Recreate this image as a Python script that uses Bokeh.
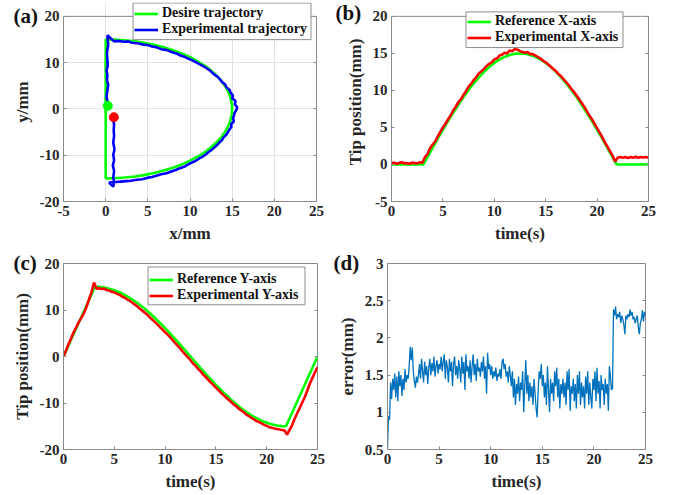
from bokeh.plotting import figure
from bokeh.layouts import row, column
from bokeh.models import Range1d, FixedTicker, LinearAxis, Legend, LegendItem, Span
from bokeh.embed import file_html
from bokeh.resources import INLINE

FONT = "Liberation Serif"
AX = "#8a8a8a"
TXT = "#262626"

# ---------------- data ----------------
t_ref = [0, 3.1, 3.5, 4.0, 4.5, 5.0, 5.5, 6.0, 6.5, 7.0, 7.5, 8.0, 8.5, 9.0, 9.5, 10.0,
         10.5, 11.0, 11.5, 12.0, 12.5, 13.0, 13.5, 14.0, 14.5, 15.0, 15.5, 16.0, 16.5,
         17.0, 17.5, 18.0, 18.5, 19.0, 19.5, 20.0, 20.5, 21.0, 21.5, 21.9, 25]
ref_x = [0, 0, 1.00, 2.25, 3.48, 4.68, 5.86, 6.99, 8.07, 9.10, 10.06, 10.95, 11.77, 12.51,
         13.15, 13.71, 14.17, 14.53, 14.79, 14.95, 15.0, 14.95, 14.79, 14.53, 14.17, 13.71,
         13.15, 12.51, 11.77, 10.95, 10.06, 9.10, 8.07, 6.99, 5.86, 4.68, 3.48, 2.25, 1.00, 0, 0]
ref_y = [0, 15, 14.97, 14.83, 14.59, 14.25, 13.81, 13.27, 12.64, 11.93, 11.13, 10.25, 9.30,
         8.28, 7.21, 6.09, 4.92, 3.72, 2.50, 1.25, 0, -1.25, -2.50, -3.72, -4.92, -6.09,
         -7.21, -8.28, -9.30, -10.25, -11.13, -11.93, -12.64, -13.27, -13.81, -14.25,
         -14.59, -14.83, -14.97, -15, 0]

t_exp = [i * 0.25 for i in range(101)]
exp_x = [0.15, 0.25, 0.10, 0.20, 0.30, 0.15, 0.20, 0.10, 0.25, 0.20, 0.15, 0.30,
         0.20, 1.0, 1.4, 2.2, 2.7, 3.1, 3.8, 4.4,
         5.0, 5.5, 6.1, 6.6, 7.3, 7.8, 8.4, 8.8, 9.4, 9.9, 10.5, 10.9,
         11.4, 11.8, 12.3, 12.6, 12.9, 13.3, 13.6, 13.8, 14.2, 14.3, 14.7, 14.8,
         15.1, 15.0, 15.4, 15.3, 15.6, 15.5, 15.3, 15.2, 15.1, 15.2, 14.9, 14.9,
         14.7, 14.5, 14.3, 14.0, 13.8, 13.5, 13.2, 12.9, 12.6, 12.2, 11.9, 11.5,
         11.1, 10.7, 10.2, 9.8, 9.3, 8.8, 8.3, 7.8, 7.2, 6.6, 6.1, 5.5,
         4.9, 4.3, 3.7, 3.0, 2.4, 1.8, 1.2, 0.4,
         0.9, 1.0, 0.9, 1.0, 0.85, 1.0, 0.9, 1.05, 0.9, 1.0, 0.95, 1.0, 0.9]
exp_y = [0.0, 1.3, 2.7, 3.9, 5.2, 6.3, 7.4, 8.3, 9.3, 10.6, 12.2, 13.8,
         15.9, 14.6, 14.7, 14.5, 14.6, 14.3, 14.2, 13.9, 13.8, 13.5, 13.3, 12.9,
         12.7, 12.3, 12.0, 11.6, 11.2, 10.8, 10.3, 9.9, 9.4, 9.0, 8.4, 7.9,
         7.4, 6.9, 6.3, 5.8, 5.2, 4.7, 4.1, 3.5, 2.9, 2.3, 1.7, 1.0,
         0.4, -0.2, -0.8, -1.5, -2.0, -2.7, -3.2, -3.9, -4.4, -5.0, -5.6, -6.1,
         -6.7, -7.2, -7.8, -8.3, -8.8, -9.3, -9.8, -10.3, -10.7, -11.2, -11.6, -12.0,
         -12.5, -12.8, -13.2, -13.5, -13.9, -14.1, -14.4, -14.7, -14.9, -15.2, -15.3, -15.5,
         -15.6, -15.7, -15.8, -15.9, -16.8, -15.8, -14.8, -13.4,
         -12.2, -11.1, -9.9, -8.7, -7.3, -5.8, -4.6, -3.4, -2.3]

des_pt_x = [0.25]
des_pt_y = [0.68]
exp_pt_x = [0.97]
exp_pt_y = [-1.8]

t_err = [i * 0.1 for i in range(251)]
err = [0.52, 0.95, 0.90, 1.40, 1.18, 1.45, 1.30, 1.52, 1.20, 1.48,
       1.15, 1.55, 1.35, 1.50, 1.22, 1.45, 1.30, 1.58, 1.40, 1.50,
       1.45, 1.62, 1.88, 1.70, 1.87, 1.55, 1.42, 1.33, 1.48, 1.40,
       1.50, 1.65, 1.45, 1.72, 1.55, 1.40, 1.68, 1.50, 1.62, 1.38,
       1.60, 1.72, 1.50, 1.66, 1.55, 1.75, 1.48, 1.62, 1.70, 1.52,
       1.65, 1.58, 1.75, 1.55, 1.68, 1.78, 1.45, 1.70, 1.60, 1.40,
       1.72, 1.55, 1.68, 1.35, 1.65, 1.75, 1.50, 1.62, 1.45, 1.70,
       1.58, 1.40, 1.75, 1.52, 1.68, 1.30, 1.78, 1.55, 1.62, 1.45,
       1.70, 1.40, 1.62, 1.78, 1.50, 1.65, 1.42, 1.72, 1.55, 1.60,
       1.48, 1.68, 1.55, 1.75, 1.45, 1.62, 1.25, 1.80, 1.58, 1.65,
       1.50, 1.62, 1.45, 1.55, 1.48, 1.60, 1.42, 1.52, 1.48, 1.58,
       1.45, 1.68, 1.72, 1.58, 1.65, 1.48, 1.55, 1.40, 1.62, 1.50,
       1.35, 1.55, 1.20, 1.45, 1.10, 1.38, 1.25, 1.48, 1.15, 1.40,
       1.30, 1.55, 1.00, 1.35, 1.70, 1.25, 1.50, 1.15, 1.40, 1.20,
       1.35, 1.10, 1.45, 1.25, 1.05, 0.93, 1.30, 1.55, 1.45, 1.65,
       1.35, 1.50, 1.20, 1.40, 1.10, 1.62, 1.30, 1.00, 1.45, 1.25,
       1.40, 1.15, 1.55, 1.35, 1.60, 1.20, 1.45, 1.05, 1.38, 1.25,
       1.45, 1.20, 1.40, 1.10, 1.55, 1.30, 1.58, 1.02, 1.35, 1.25,
       1.45, 1.15, 1.38, 1.05, 1.50, 1.25, 1.55, 1.10, 1.40, 1.20,
       1.35, 1.05, 1.48, 1.25, 1.55, 1.10, 1.40, 1.20, 1.05, 1.45,
       1.30, 1.55, 1.15, 1.60, 1.25, 1.42, 1.05, 1.50, 1.30, 1.38,
       1.10, 1.45, 1.25, 1.38, 1.02, 1.62, 1.48, 1.30, 1.32, 2.38,
       2.30, 2.42, 2.25, 2.32, 2.28, 2.35, 2.20, 2.30, 2.25, 2.18,
       2.05, 2.30, 2.25, 2.32, 2.28, 2.38, 2.30, 2.35, 2.25, 2.28,
       2.20, 2.25, 2.30, 2.15, 2.05, 2.20, 2.25, 2.37, 2.22, 2.35,
       2.30]

a_xticks = [-5, 0, 5, 10, 15, 20, 25]
a_xlabels = ["-5", "0", "5", "10", "15", "20", "25"]
a_yticks = [-20, -10, 0, 10, 20]
a_ylabels = ["-20", "-10", "0", "10", "20"]
t_ticks = [0, 5, 10, 15, 20, 25]
t_labels = ["0", "5", "10", "15", "20", "25"]
b_yticks = [-5, 0, 5, 10, 15, 20]
b_ylabels = ["-5", "0", "5", "10", "15", "20"]
c_yticks = [-20, -10, 0, 10, 20]
c_ylabels = ["-20", "-10", "0", "10", "20"]
d_yticks = [0.5, 1.0, 1.5, 2.0, 2.5, 3.0]
d_ylabels = ["0.5", "1", "1.5", "2", "2.5", "3"]


def make_fig(w, h, xr, yr, ybox, bl, br, bt, bb, xticks, xlabels, yticks, ylabels,
             xlabel, ylabel, grid=False, open_top=False):
    """open_top: the frame reaches the canvas top (room for a legend above the
    axes box); the box itself is then drawn by axis lines plus a span."""
    p = figure(width=w, height=h, x_range=Range1d(*xr), y_range=Range1d(*yr),
               output_backend="svg", toolbar_location=None,
               min_border_left=bl, min_border_right=br,
               min_border_top=bt, min_border_bottom=bb)
    p.background_fill_color = "white"
    p.border_fill_color = "white"
    if open_top:
        p.outline_line_color = None
    else:
        p.outline_line_color = AX
        p.outline_line_width = 1
    for ax, ticks, labels, lab in ((p.xaxis[0], xticks, xlabels, xlabel),
                                   (p.yaxis[0], yticks, ylabels, ylabel)):
        ax.ticker = FixedTicker(ticks=ticks)
        ax.major_label_overrides = {t: l for t, l in zip(ticks, labels)}
        ax.axis_label = lab
        ax.axis_label_text_font = FONT
        ax.axis_label_text_font_style = "bold"
        ax.axis_label_text_font_size = "17px"
        ax.axis_label_text_color = TXT
        ax.axis_label_standoff = 5
        ax.major_label_text_font = FONT
        ax.major_label_text_font_style = "bold"
        ax.major_label_text_font_size = "15px"
        ax.major_label_text_color = TXT
        ax.major_label_standoff = 4
        ax.major_tick_in = 3
        ax.major_tick_out = 0
        ax.major_tick_line_color = AX
        ax.minor_tick_line_color = None
        ax.axis_line_color = AX
    p.yaxis[0].bounds = ybox
    right = LinearAxis(ticker=FixedTicker(ticks=yticks), bounds=ybox,
                       major_label_overrides={t: "" for t in yticks},
                       major_label_standoff=0, major_tick_in=3, major_tick_out=0,
                       minor_tick_line_color=None,
                       axis_line_color=AX if open_top else None,
                       major_tick_line_color=AX)
    p.add_layout(right, "right")
    if open_top:
        p.add_layout(Span(location=ybox[1], dimension="width", line_color=AX,
                          line_width=1, level="underlay"))
    p.xgrid.ticker = FixedTicker(ticks=xticks)
    p.ygrid.ticker = FixedTicker(ticks=yticks)
    p.xgrid.bounds = ybox
    if grid:
        p.xgrid.grid_line_color = "#e3e3e3"
        p.ygrid.grid_line_color = "#e3e3e3"
    else:
        p.xgrid.visible = False
        p.ygrid.visible = False
    return p


def set_tag(p, text, offset, standoff, valign):
    p.title.text = text
    p.title.align = "left"
    p.title.offset = offset
    p.title.standoff = standoff
    p.title.vertical_align = valign
    p.title.text_font = FONT
    p.title.text_font_style = "bold"
    p.title.text_font_size = "21px"
    p.title.text_color = "#111111"


def add_legend(p, items, loc, box):
    # white legend box (patch) outlined by a grey closed line, under the entries;
    # the Legend itself is fully transparent so the box stays visible
    l, r, b, t = box
    p.patch([l, r, r, l], [b, b, t, t], fill_color="white", line_color=None)
    p.line([l, r, r, l, l], [b, b, t, t, b], line_color="#8c8c8c", line_width=1)
    lg = Legend(items=items, location=loc)
    lg.label_text_font = FONT
    lg.label_text_font_style = "bold"
    lg.label_text_font_size = "14px"
    lg.label_text_color = "#111111"
    lg.glyph_width = 24
    lg.glyph_height = 15
    lg.label_height = 15
    lg.label_standoff = 4
    lg.padding = 1
    lg.spacing = 0
    lg.margin = 0
    lg.border_line_color = None
    lg.border_line_alpha = 0
    lg.background_fill_color = None
    lg.background_fill_alpha = 0
    p.add_layout(lg)


# ---------------- (a) ----------------
pa = make_fig(330, 248, (-5, 25), (-20, 20 + 14 / 4.675), (-20, 20), 63, 14, 0, 47,
              a_xticks, a_xlabels, a_yticks, a_ylabels, "x/mm", "y/mm",
              grid=True, open_top=True)
set_tag(pa, "(a)", -50, -50, "bottom")
ga = pa.line(ref_x, ref_y, line_color="#00ff00", line_width=2.6)
ba = pa.line(exp_x, exp_y, line_color="#0000ff", line_width=2.6)
pa.scatter(des_pt_x, des_pt_y, size=9, color="#00ff00")
pa.scatter(exp_pt_x, exp_pt_y, size=9, color="#ff0000")
ax_px = lambda px: -5 + (px - 63) / 8.4333
ay_px = lambda py: -20 + (201 - py) / 4.675
add_legend(pa, [LegendItem(label="Desire trajectory", renderers=[ga]),
                LegendItem(label="Experimental trajectory", renderers=[ba])],
           (71, 201 - 37), (ax_px(132.5), ax_px(310.5), ay_px(37.5), ay_px(0.5)))

# ---------------- (b) ----------------
pb = make_fig(351, 248, (0, 25), (-5, 20 + 14 / 7.48), (-5, 20), 61, 33, 0, 47,
              t_ticks, t_labels, b_yticks, b_ylabels, "time(s)", "Tip position(mm)",
              open_top=True)
set_tag(pb, "\n(b)", -56, -48, "top")
gb = pb.line(t_ref, ref_x, line_color="#00ff00", line_width=2.6)
rb = pb.line(t_exp, exp_x, line_color="#ff0000", line_width=2.6)
bx_px = lambda px: (px - 391) / 10.28
by_px = lambda py: -5 + (201 - py) / 7.48
add_legend(pb, [LegendItem(label="Reference X-axis", renderers=[gb]),
                LegendItem(label="Experimental X-axis", renderers=[rb])],
           (76, 201 - 45), (bx_px(465.5), bx_px(622.5), by_px(45.5), by_px(9.5)))

# ---------------- (c) ----------------
pc = make_fig(330, 247, (0, 25), (-20, 20), (-20, 20), 63, 13, 15, 45,
              t_ticks, t_labels, c_yticks, c_ylabels, "time(s)", "Tip position(mm)")
set_tag(pc, "(c)", -50, -22, "bottom")
gc = pc.line(t_ref, ref_y, line_color="#00ff00", line_width=2.6)
rc = pc.line(t_exp, exp_y, line_color="#ff0000", line_width=2.6)
cx_px = lambda px: (px - 63) / 10.16
cy_px = lambda py: -20 + (450 - py) / 4.675
add_legend(pc, [LegendItem(label="Reference Y-axis", renderers=[gc]),
                LegendItem(label="Experimental Y-axis", renderers=[rc])],
           (86, 187 - 41), (cx_px(147.5), cx_px(304.5), cy_px(304.5), cy_px(266.5)))

# ---------------- (d) ----------------
pd_ = make_fig(351, 247, (0, 25), (0.5, 3), (0.5, 3), 57, 36, 14, 46,
               t_ticks, t_labels, d_yticks, d_ylabels, "time(s)", "error(mm)")
set_tag(pd_, "(d)", -54, -22, "bottom")
pd_.line(t_err, err, line_color="#0072bd", line_width=1.3)

layout = column(row(pa, pb), row(pc, pd_))
open("out.html", "w").write(file_html(layout, INLINE))
